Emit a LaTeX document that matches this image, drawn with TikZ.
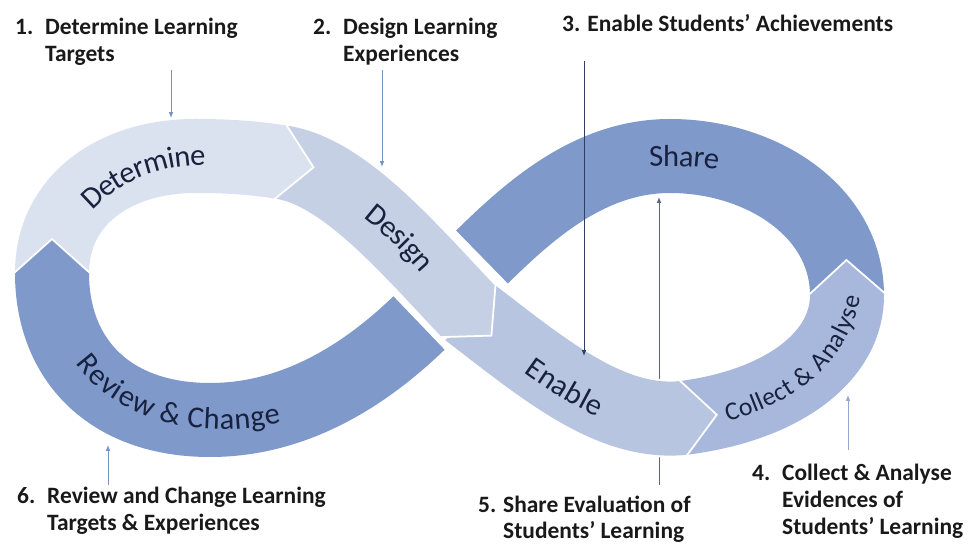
\documentclass[tikz,border=0pt]{standalone}
\usepackage{fontspec}
\setmainfont{Carlito}
\usetikzlibrary{arrows.meta,decorations.markings,decorations.text}

\definecolor{detfill}{RGB}{218,225,239}
\definecolor{desfill}{RGB}{198,208,228}
\definecolor{enafill}{RGB}{184,197,224}
\definecolor{colfill}{RGB}{168,184,220}
\definecolor{shafill}{RGB}{127,153,203}
\definecolor{revfill}{RGB}{127,153,203}
\definecolor{bandtext}{RGB}{24,34,62}
\definecolor{lightarrow}{RGB}{118,148,190}
\definecolor{darkarrow}{RGB}{48,62,100}

\newcommand{\bandfont}{\fontsize{26}{30}\selectfont}
\newcommand{\smallbandfont}{\fontsize{22}{26}\selectfont}

\tikzset{
  band/.style={draw=#1, line width=2.22cm, preaction={draw=white, line width=2.34cm}},
  chevron/.style={postaction={decorate, decoration={markings, mark=at position 0.9999 with {
      \fill[#1] (-2,-37) -- (0,-37) -- (34,0) -- (0,37) -- (-2,37) -- cycle;
      \draw[white, line width=1.5pt, line join=miter] (0,-38) -- (34,0) -- (0,38);}}}},
  bandlabel/.style={decorate, decoration={text along path, text align=center, text color=bandtext, raise=-8pt, text={#1}}},
  steplabel/.style={anchor=base west, inner sep=0pt, font=\bfseries\fontsize{20}{23}\selectfont, text=black!90},
  pointer/.style={-{Latex[length=5pt,width=4pt]}, line width=0.8pt, draw=#1},
}

\begin{document}
\begin{tikzpicture}[x=0.03cm, y=-0.03cm]
  \useasboundingbox (0,0) rectangle (969,544);

  % Step labels
  \node[steplabel] (lab1) at (15,35) {\begin{tabular}[t]{@{}p{0.9cm}@{}l@{}}1. & Determine Learning\\ & Targets\end{tabular}};
  \node[steplabel] (lab2) at (313,35) {\begin{tabular}[t]{@{}p{0.9cm}@{}l@{}}2. & Design Learning\\ & Experiences\end{tabular}};
  \node[steplabel] (lab3) at (562,32) {3. Enable Students’ Achievements};
  \node[steplabel] (lab4) at (752,481) {\begin{tabular}[t]{@{}p{0.9cm}@{}l@{}}4. & Collect \& Analyse\\ & Evidences of\\ & Students’ Learning\end{tabular}};
  \node[steplabel] (lab5) at (478,512) {\begin{tabular}[t]{@{}p{0.75cm}@{}l@{}}5. & Share Evaluation of\\ & Students’ Learning\end{tabular}};
  \node[steplabel] (lab6) at (17,504) {\begin{tabular}[t]{@{}p{0.9cm}@{}l@{}}6. & Review and Change Learning\\ & Targets \& Experiences\end{tabular}};

  % Joints of the loop
  \coordinate (p1) at (52,273);
  \coordinate (p2) at (280,162);
  \coordinate (p3) at (468,311);
  \coordinate (p4) at (683,418);
  \coordinate (p5) at (847,294);
  \coordinate (p6) at (482,257);
  \coordinate (p7) at (419,323);

  % Arrow targets
  \coordinate (detTop) at (171,118);
  \coordinate (desTop) at (382,167);
  \coordinate (enaIn) at (584,356);
  \coordinate (colOut) at (848,395);
  \coordinate (shaIn) at (659,197);
  \coordinate (revOut) at (108,445);

  % behind the bands
  \draw[pointer=darkarrow!80] ([yshift=7pt]shaIn |- lab5.north) -- (shaIn);

  % Bands
  \draw[band=shafill] (p5) .. controls (846,210) and (760,156) .. (670,156) .. controls (590,156) and (530,210) .. (p6);
  \draw[band=colfill, chevron=colfill] (p4) .. controls (785,405) and (848,355) .. (p5);
  \draw[band=enafill, chevron=enafill] (p3) .. controls (545,370) and (610,425) .. (p4);
  \draw[band=desfill, chevron=desfill] (p2) .. controls (343,170) and (410,250) .. (p3);
  \draw[band=detfill, chevron=detfill] (p1) .. controls (52,200) and (115,156) .. (195,156) .. controls (230,156) and (255,158) .. (p2);
  \draw[band=revfill, chevron=revfill] (p7) .. controls (360,380) and (290,420) .. (210,420) .. controls (110,420) and (52,360) .. (p1);

  % Band texts
  \path[bandlabel={|\bandfont|Determine}] (61,243) .. controls (89,175) and (174,139) .. (251,164);
  \path[bandlabel={|\bandfont|Design}, decoration={raise=-12pt}] (322,176) .. controls (372,198) and (426,250) .. (p3);
  \path[bandlabel={|\bandfont|Enable}, decoration={raise=-13pt}] (p3) .. controls (545,370) and (610,425) .. (p4);
  \path[bandlabel={|\smallbandfont|Collect {\&} Analyse}] (700,417) .. controls (795,402) and (856,345) .. (852,270);
  \path[bandlabel={|\bandfont|Share}] (581,174) .. controls (620,150) and (740,148) .. (784,187);
  \path[bandlabel={|\bandfont|Review {\&} Change}] (62,300) .. controls (69,380) and (147,420) .. (222,420) .. controls (267,420) and (307,408) .. (337,392);

  % Pointers
  \draw[pointer=lightarrow] (detTop |- lab1.south) -- (detTop);
  \draw[pointer=lightarrow] (desTop |- lab2.south) -- (desTop);
  \draw[pointer=darkarrow] ([yshift=-24pt]enaIn |- lab3.south) -- (enaIn);
  \draw[pointer=lightarrow!80] ([yshift=10pt]colOut |- lab4.north) -- (colOut);
  \draw[pointer=lightarrow] (revOut |- lab6.north) -- (revOut);
\end{tikzpicture}
\end{document}
